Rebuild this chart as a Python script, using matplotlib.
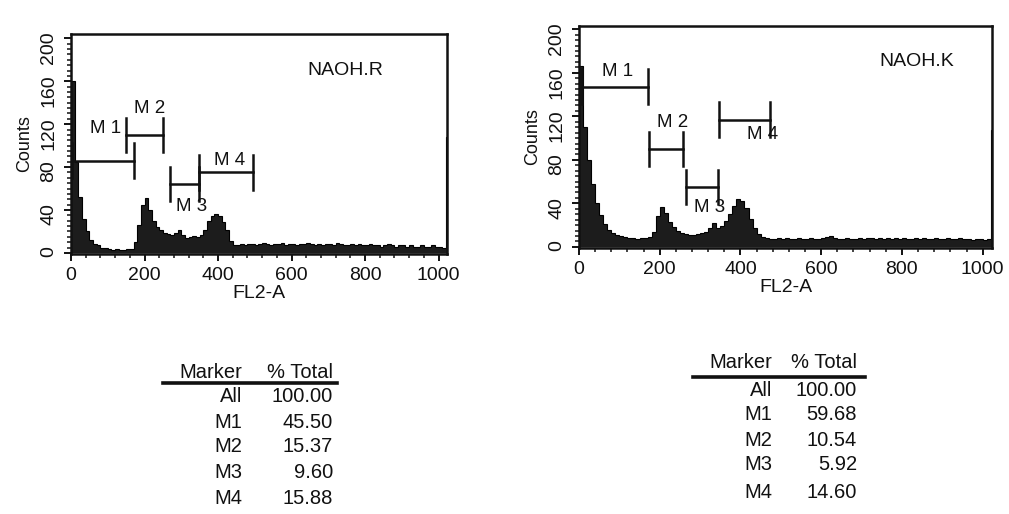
import numpy as np
import matplotlib.pyplot as plt
from matplotlib.ticker import MultipleLocator
from matplotlib.lines import Line2D

plt.rcParams['font.family'] = ['Liberation Sans', 'DejaVu Sans']

# FL2-A channel bins (width 10, last bin 1020-1023)
edges = np.append(np.arange(0, 1030, 10), 1023)

# NAOH.R counts per bin
counts_r = [160, 85, 52, 32, 20, 12, 8, 7, 5, 5,
            4, 3, 4, 3, 3, 4, 4, 10, 26, 45,
            51, 40, 30, 24, 21, 19, 18, 17, 19, 21,
            17, 14, 15, 16, 15, 17, 21, 30, 34, 36,
            34, 29, 21, 11, 7, 7, 8, 7, 8, 8,
            7, 8, 9, 8, 7, 8, 8, 9, 7, 8,
            8, 7, 8, 8, 9, 8, 7, 8, 7, 8,
            8, 7, 9, 8, 7, 7, 8, 7, 8, 7,
            7, 8, 7, 7, 6, 7, 8, 7, 6, 7,
            7, 6, 7, 6, 6, 7, 6, 6, 7, 6,
            6, 5, 108]

# NAOH.K counts per bin
counts_k = [166, 110, 80, 58, 40, 29, 21, 16, 13, 11,
            10, 9, 8, 8, 7, 8, 8, 9, 14, 28,
            37, 31, 23, 18, 15, 13, 12, 11, 11, 12,
            13, 14, 17, 22, 17, 19, 24, 30, 38, 44,
            42, 36, 26, 17, 12, 9, 8, 7, 7, 8,
            7, 8, 7, 7, 8, 7, 7, 8, 7, 7,
            8, 9, 10, 8, 7, 7, 8, 7, 7, 8,
            7, 8, 8, 7, 8, 7, 8, 7, 8, 7,
            8, 7, 7, 8, 7, 8, 7, 7, 8, 7,
            7, 8, 7, 7, 8, 7, 7, 6, 7, 7,
            6, 7, 107]

markers = ['M1', 'M2', 'M3', 'M4']
# marker gates: start channel, end channel, drawn level (counts)
gate_start_r = [2, 150, 270, 347]
gate_end_r = [172, 251, 347, 496]
gate_level_r = [86, 110, 64, 75]
gate_start_k = [7, 174, 265, 348]
gate_end_k = [171, 258, 345, 474]
gate_level_k = [147, 90, 55, 117]

# % Total table
pct_r = ['100.00', '45.50', '15.37', '9.60', '15.88']
pct_k = ['100.00', '59.68', '10.54', '5.92', '14.60']

INK = '#111111'
fig = plt.figure(figsize=(10.09, 5.14), dpi=100)


def draw_panel(rect, counts, g0, g1, glev, label_xy, title, title_xy, ylim):
    ax = fig.add_axes(rect)
    ax.stairs(counts, edges, fill=True, facecolor='#1c1c1c', edgecolor='black', linewidth=0.8)
    for a, b, lev, (lx, ly), m in zip(g0, g1, glev, label_xy, markers):
        ax.plot([a, b], [lev, lev], color=INK, lw=1.8)
        ax.plot([a, a], [lev - 16, lev + 16], color=INK, lw=1.8)
        ax.plot([b, b], [lev - 16, lev + 16], color=INK, lw=1.8)
        ax.text(lx, ly, m[0] + ' ' + m[1], fontsize=13.5, ha='center', va='center', color=INK)
    ax.text(title_xy[0], title_xy[1], title, fontsize=14, ha='center', va='center', color=INK)
    ax.set_xlim(0, 1023)
    ax.set_ylim(*ylim)
    ax.set_xticks(range(0, 1001, 200))
    ax.set_yticks(range(0, 201, 40))
    ax.xaxis.set_minor_locator(MultipleLocator(40))
    ax.yaxis.set_minor_locator(MultipleLocator(5))
    ax.tick_params(which='major', direction='out', length=5, width=1.4, labelsize=14, colors=INK)
    ax.tick_params(which='minor', direction='out', length=3, width=1.1, colors=INK)
    ax.tick_params(axis='y', labelrotation=90, pad=5)
    ax.tick_params(axis='x', pad=4)
    for s in ax.spines.values():
        s.set_linewidth(1.8)
        s.set_color(INK)
    ax.set_xlabel('FL2-A', fontsize=14, color=INK, labelpad=1)
    ax.set_ylabel('Counts', fontsize=13, color=INK, labelpad=5)
    return ax


draw_panel([0.0704, 0.5058, 0.3726, 0.428], counts_r, gate_start_r, gate_end_r, gate_level_r,
           [(95, 116), (213, 135), (327, 43), (431, 86)], 'NAOH.R', (747, 170), (-1, 204))
draw_panel([0.5738, 0.5175, 0.4093, 0.432], counts_k, gate_start_k, gate_end_k, gate_level_k,
           [(95, 161), (232, 114), (323, 36), (455, 103)], 'NAOH.K', (837, 170), (-1, 203))


def draw_table(x_lab, x_val, x0, x1, y_head, y_line, y_rows, vals):
    W, H = 1009.0, 514.0
    fs = 14.5
    fig.text(x_lab / W, 1 - y_head / H, 'Marker', fontsize=fs, ha='right', va='center', color=INK)
    fig.text(x_val / W, 1 - y_head / H, '% Total', fontsize=fs, ha='right', va='center', color=INK)
    fig.add_artist(Line2D([x0 / W, x1 / W], [1 - y_line / H] * 2, color=INK, lw=2.6))
    for i, (m, v) in enumerate(zip(['All'] + markers, vals)):
        y = 1 - y_rows[i] / H
        fig.text(x_lab / W, y, m, fontsize=fs, ha='right', va='center', color=INK)
        fig.text(x_val / W, y, v, fontsize=fs, ha='right', va='center', color=INK)


draw_table(242, 333, 163, 337, 372, 383, [397, 422, 447, 473, 499], pct_r)
draw_table(772, 857, 693, 865, 363, 377, [390, 415, 440, 465, 492], pct_k)

fig.savefig('out.png', dpi=100)
